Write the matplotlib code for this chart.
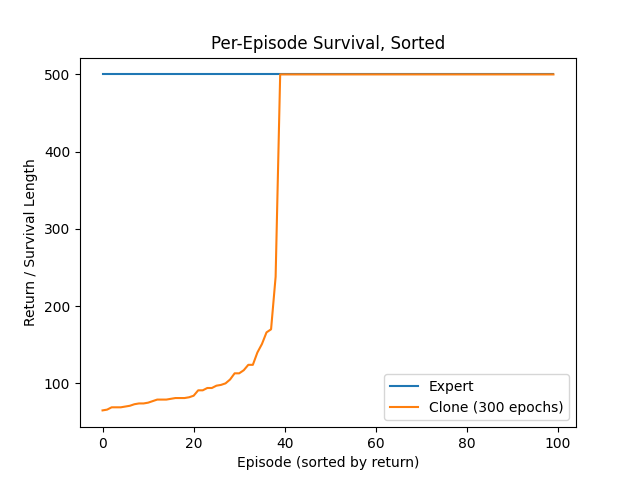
import numpy as np
import matplotlib
matplotlib.use("Agg")
import matplotlib.pyplot as plt

# sorted per-episode returns
expert = [500] * 100
clone_low = [65, 66, 69, 69, 69, 70, 71, 73, 74, 74,
             75, 77, 79, 79, 79, 80, 81, 81, 81, 82,
             84, 91, 91, 94, 94, 97, 98, 100, 105, 113,
             113, 117, 124, 124, 140, 151, 166, 170, 238]
clone = clone_low + [500] * (100 - len(clone_low))
episodes = np.arange(100)

plt.figure(figsize=(6.4, 4.8), dpi=100)
plt.plot(episodes, expert, label="Expert")
plt.plot(episodes, clone, label="Clone (300 epochs)")
plt.xlabel("Episode (sorted by return)")
plt.ylabel("Return / Survival Length")
plt.title("Per-Episode Survival, Sorted")
plt.legend(loc="lower right")
plt.savefig("out.png")
